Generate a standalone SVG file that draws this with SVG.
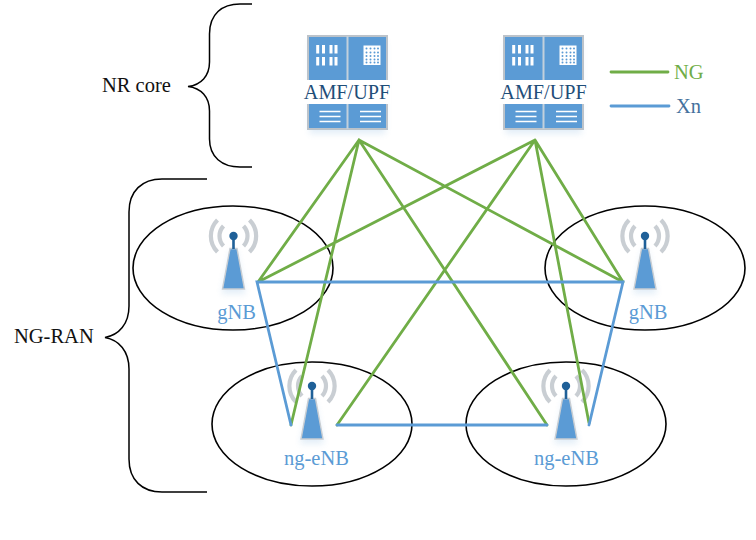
<svg xmlns="http://www.w3.org/2000/svg" width="756" height="540" viewBox="0 0 756 540">
<style>
text{font-family:"Liberation Serif","Times New Roman",serif;font-size:20.500px}
.k{fill:#111}
.b{fill:#5b9bd5}
.amf{fill:#1f4e79;font-size:20.200px}
.ell{fill:none;stroke:#000;stroke-width:1.6}
.brace{fill:none;stroke:#000;stroke-width:1.5}
.ng{stroke:#70ad47;stroke-width:2.8;fill:none;stroke-linecap:round}
.xn{stroke:#5b9bd5;stroke-width:2.8;fill:none;stroke-linecap:round}
.arc{fill:none;stroke:#c9ced3;stroke-width:4.2}
.w{fill:#fff}
.l{stroke:#fff;stroke-width:1.7}
.d{fill:#5b9bd5}
.halo{fill:#5b9bd5;opacity:.16;filter:url(#soft)}
</style>
<defs>
<filter id="soft" x="-30%" y="-30%" width="160%" height="160%"><feGaussianBlur stdDeviation="3"/></filter>
<g id="server">
<rect class="halo" x="-38" y="4" width="76" height="94"/>
<rect x="-39.500" y="0" width="79" height="93" fill="#5b9bd5" stroke="#bcc3ca" stroke-width="2"/>
<path d="M0 0V93" stroke="#c3d0dc" stroke-width="2"/>
<path class="w" d="M-31.300 9h3v8.500h-3zM-25.500 9h3v8.500h-3zM-18 9h3v8.500h-3zM-13 9h3v8.500h-3zM-31.300 21h3v8.500h-3zM-25.500 21h3v8.500h-3zM-18 21h3v8.500h-3zM-13 21h3v8.500h-3z"/>
<rect class="w" x="16" y="9.500" width="17" height="19.500"/>
<g class="d">
<circle cx="19" cy="12.500" r="1"/><circle cx="23" cy="12.500" r="1"/><circle cx="27" cy="12.500" r="1"/><circle cx="30.500" cy="12.500" r="1"/>
<circle cx="19" cy="16.500" r="1"/><circle cx="23" cy="16.500" r="1"/><circle cx="27" cy="16.500" r="1"/><circle cx="30.500" cy="16.500" r="1"/>
<circle cx="19" cy="20" r="1"/><circle cx="23" cy="20" r="1"/><circle cx="27" cy="20" r="1"/><circle cx="30.500" cy="20" r="1"/>
<circle cx="19" cy="23.500" r="1"/><circle cx="23" cy="23.500" r="1"/><circle cx="27" cy="23.500" r="1"/><circle cx="30.500" cy="23.500" r="1"/>
<circle cx="19" cy="26.500" r="1"/><circle cx="23" cy="26.500" r="1"/><circle cx="27" cy="26.500" r="1"/><circle cx="30.500" cy="26.500" r="1"/>
</g>
<path class="l" d="M-28 75.500h21M-28 80.500h21M-28 85.500h21M12.500 75.500h21M12.500 80.500h21M12.500 85.500h21"/>
<rect class="w" x="-44" y="44" width="87.500" height="24"/>
</g>
<g id="tower">
<path class="halo" d="M-3 14H3L12 58H-12Z"/>
<path class="arc" d="M-10-10A14.500 14.500 0 0 0-10 10M10-10A14.500 14.500 0 0 1 10 10"/>
<path class="arc" d="M-16-16A22.600 22.600 0 0 0-16 16M16-16A22.600 22.600 0 0 1 16 16"/>
<path d="M-3.500 12.500H3.500L11 53H-11Z" fill="#5b9bd5" stroke="#c9ced3" stroke-width="1.400"/>
<path d="M0 0V13" stroke="#1f6098" stroke-width="2.600"/>
<circle r="4.200" fill="#1f6098"/>
</g>
</defs>
<g id="nr-core-brace"><path class="brace" d="M252 4H240C222 4 209.500 14 209.500 34V62C209.500 76 201 85 188 86.500C201 88 209.500 97 209.500 111V139C209.500 157 222 167 240 167H252"/><text class="k" x="102" y="92">NR core</text></g>
<g id="ng-ran-brace"><path class="brace" d="M207 179H162C142 179 129 191 129 212V306C129 324 119 335 105 337.500C119 340 129 351 129 369V459C129 480 142 492 162 492H207"/><text class="k" x="14" y="343">NG-RAN</text></g>
<g id="gnb-left"><ellipse class="ell" cx="233" cy="268" rx="100" ry="62"/><use href="#tower" x="233.500" y="236"/><text class="b" x="236.500" y="319" text-anchor="middle">gNB</text></g>
<g id="gnb-right"><ellipse class="ell" cx="645" cy="268" rx="100" ry="62"/><use href="#tower" x="645" y="236"/><text class="b" x="648" y="319" text-anchor="middle">gNB</text></g>
<g id="ng-enb-left"><ellipse class="ell" cx="312" cy="424" rx="100" ry="62"/><use href="#tower" x="312" y="386"/><text class="b" x="316.500" y="465" text-anchor="middle">ng-eNB</text></g>
<g id="ng-enb-right"><ellipse class="ell" cx="566" cy="424" rx="100" ry="62"/><use href="#tower" x="566" y="386"/><text class="b" x="566.500" y="465" text-anchor="middle">ng-eNB</text></g>
<g id="connectors">
<path class="ng" d="M359 140L258 282M359 140L623 282M359 140L291 425M359 140L547 425M535 140L258 282M535 140L623 282M535 140L337 425M535 140L589 423"/>
<path class="xn" d="M291 425L257 282H623L589 425M337 425H547"/>
</g>
<g id="amf-upf-1"><use href="#server" x="347.500" y="36"/><text class="amf" x="347" y="99" text-anchor="middle">AMF/UPF</text></g>
<g id="amf-upf-2"><use href="#server" x="543.500" y="36"/><text class="amf" x="543.500" y="99" text-anchor="middle">AMF/UPF</text></g>
<g id="legend">
<path class="ng" d="M611 72H668"/><text x="674" y="79" fill="#70ad47">NG</text>
<path class="xn" d="M611 106H669"/><text x="676" y="113" fill="#44719d">Xn</text>
</g>
</svg>
